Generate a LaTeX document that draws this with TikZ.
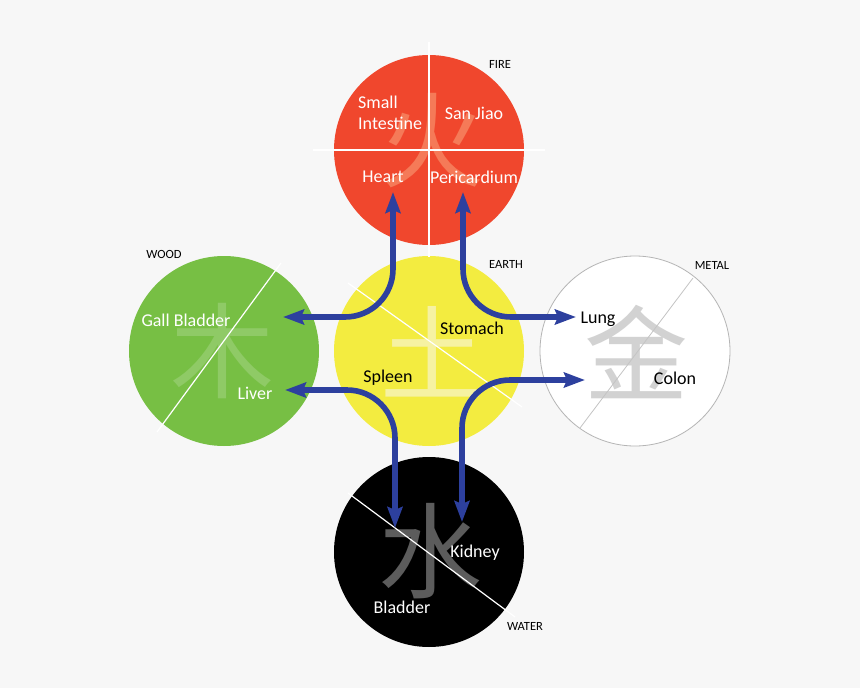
\documentclass[tikz,border=0pt]{standalone}
\usepackage{fontspec}
\setmainfont{Carlito}
\newfontfamily\cjk{Noto Sans CJK SC}
\usepackage{xcolor}
\usepackage{tikz}
\usetikzlibrary{positioning,arrows.meta,calc}
\definecolor{WXbg}{HTML}{F7F7F7}
\definecolor{WXfire}{HTML}{F0472D}
\definecolor{WXfireChar}{HTML}{F57A58}
\definecolor{WXwood}{HTML}{77BF44}
\definecolor{WXwoodChar}{HTML}{8FCA66}
\definecolor{WXearth}{HTML}{F3EC40}
\definecolor{WXearthChar}{HTML}{F6F2A2}
\definecolor{WXmetalRim}{HTML}{B5B5B5}
\definecolor{WXmetalChar}{HTML}{D2D2D2}
\definecolor{WXwater}{HTML}{000000}
\definecolor{WXwaterChar}{HTML}{5C5C5C}
\definecolor{WXarrow}{HTML}{2D409E}
\tikzset{
  element/.style={circle, minimum size=190pt, inner sep=0pt, draw=none},
  hanzi/.style={font=\cjk\fontsize{104}{104}\selectfont, inner sep=0pt},
  organ/.style={font=\fontsize{18}{21}\selectfont, inner sep=0pt, align=left},
  phase/.style={font=\fontsize{12.5}{14}\selectfont, inner sep=0pt, text=black},
  divider/.style={draw=white, line width=1.2pt},
  linkarr/.style={{Stealth[length=21pt,width=15pt,inset=3pt]}-{Stealth[length=21pt,width=15pt,inset=3pt]}, line width=5.6pt, draw=WXarrow, rounded corners=48pt}
}
\begin{document}
\begin{tikzpicture}[x=1pt, y=-1pt]
\fill[WXbg] (0,0) rectangle (860,688);
\node[element, fill=WXfire] (fire) at (429,150) {};
\node[element, fill=WXwood] (wood) at (224,351) {};
\node[element, fill=WXearth] (earth) at (429,351) {};
\node[element, fill=white, draw=WXmetalRim, line width=0.8pt] (metal) at (635,351) {};
\node[element, fill=WXwater] (water) at (429,552) {};
\node[hanzi, text=WXfireChar] (fireChar) at (432,141) {火};
\node[hanzi, text=WXwoodChar] (woodChar) at (222,351) {木};
\node[hanzi, text=WXearthChar] (earthChar) at (432,352) {土};
\node[hanzi, text=WXmetalChar] (metalChar) at (636,352) {金};
\node[hanzi, text=WXwaterChar] (waterChar) at (430,551) {水};
\draw[divider] (429,42) -- (429,257);
\draw[divider] (313,150) -- (545,150);
\draw[divider] (281,263) -- (157,432);
\draw[divider] (348,283) -- (522,407);
\draw[divider, draw=WXmetalRim!80, line width=0.8pt] (693,278) -- (580,428);
\draw[divider] (348,493) -- (515,617);
\node[organ, text=white, anchor=west] (smallInt) at (358,113) {Small\\Intestine};
\node[organ, text=white] (sanJiao) at (474,113) {San Jiao};
\node[organ, text=white] (heart) at (383,177) {Heart};
\node[organ, text=white] (peric) at (474,177) {Pericardium};
\node[organ, text=white] (gall) at (186,320) {Gall Bladder};
\node[organ, text=white] (liver) at (255,393) {Liver};
\node[organ] (stomach) at (472,328) {Stomach};
\node[organ] (spleen) at (388,378) {Spleen};
\node[organ] (lung) at (598,319) {Lung};
\node[organ] (colon) at (675,378) {Colon};
\node[organ, text=white] (kidney) at (475,553) {Kidney};
\node[organ, text=white] (bladder) at (402,607) {Bladder};
\node[phase] (fireName) at (500,64) {FIRE};
\node[phase] (woodName) at (164,254) {WOOD};
\node[phase] (earthName) at (506,264) {EARTH};
\node[phase] (metalName) at (712,265) {METAL};
\node[phase] (waterName) at (525,626) {WATER};
\coordinate (heartTip) at (393,192);
\coordinate (gallTip) at (283,317);
\coordinate (pericTip) at (463,192);
\coordinate (lungTip) at (576,317);
\coordinate (liverTip) at (285,390);
\coordinate (bladderTip) at (395,528);
\coordinate (colonTip) at (585,380);
\coordinate (kidneyTip) at (462,522);
\draw[linkarr] (heartTip) |- (gallTip);
\draw[linkarr] (pericTip) |- (lungTip);
\draw[linkarr] (liverTip) -| (bladderTip);
\draw[linkarr] (colonTip) -| (kidneyTip);
\end{tikzpicture}
\end{document}
